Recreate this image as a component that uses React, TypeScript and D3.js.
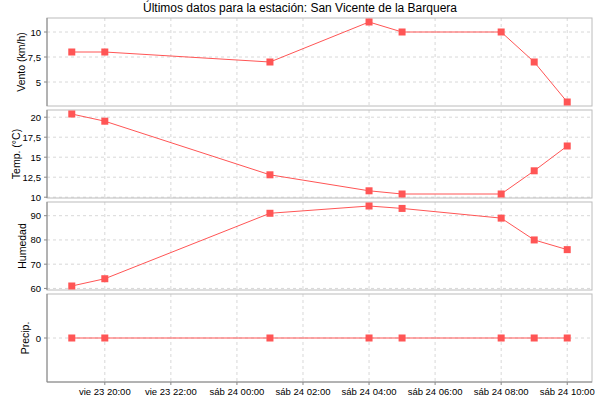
import React from "react";
import * as d3 from "d3";

const TITLE = "Últimos datos para la estación: San Vicente de la Barquera";
const times = [
  new Date(2023, 5, 23, 19, 0),
  new Date(2023, 5, 23, 20, 0),
  new Date(2023, 5, 24, 1, 0),
  new Date(2023, 5, 24, 4, 0),
  new Date(2023, 5, 24, 5, 0),
  new Date(2023, 5, 24, 8, 0),
  new Date(2023, 5, 24, 9, 0),
  new Date(2023, 5, 24, 10, 0),
];
const viento = [8, 8, 7, 11, 10, 10, 7, 3];
const temp = [20.4, 19.5, 12.8, 10.8, 10.4, 10.4, 13.3, 16.4];
const humedad = [61, 64, 91, 94, 93, 89, 80, 76];
const precip = [0, 0, 0, 0, 0, 0, 0, 0];

const xTicks = [
  new Date(2023, 5, 23, 20, 0),
  new Date(2023, 5, 23, 22, 0),
  new Date(2023, 5, 24, 0, 0),
  new Date(2023, 5, 24, 2, 0),
  new Date(2023, 5, 24, 4, 0),
  new Date(2023, 5, 24, 6, 0),
  new Date(2023, 5, 24, 8, 0),
  new Date(2023, 5, 24, 10, 0),
];
const xTickLabels = [
  "vie 23 20:00",
  "vie 23 22:00",
  "sáb 24 00:00",
  "sáb 24 02:00",
  "sáb 24 04:00",
  "sáb 24 06:00",
  "sáb 24 08:00",
  "sáb 24 10:00",
];

const vientoTicks = [5, 7.5, 10];
const tempTicks = [10, 12.5, 15, 17.5, 20];
const humedadTicks = [60, 70, 80, 90];
const precipTicks = [0];

const panelLabels = ["Vento (km/h)", "Temp. (°C)", "Humedad", "Precip."];
const panelValues = [viento, temp, humedad, precip];
const panelTicks = [vientoTicks, tempTicks, humedadTicks, precipTicks];

// layout
const labelBaselineX = [25, 20, 26, 29];
const W = 600;
const H = 400;
const left = 47;
const right = 592;
const top0 = 18;
const panelH = 88;
const gap = 4;
const FONT = "'Liberation Sans', Arial, sans-serif";
const RED = "#ff5555";

const fmt = (v: number) => String(v).replace(".", ",");

export default function App() {
  const t0 = times[0].getTime();
  const t1 = times[times.length - 1].getTime();
  const pad = (t1 - t0) * 0.05;
  const x = d3.scaleTime().domain([new Date(t0 - pad), new Date(t1 + pad)]).range([left, right]);

  return (
    <svg width={W} height={H} style={{ position: "absolute", left: 0, top: 0, background: "#fff" }} fontFamily={FONT}>
      <rect x={0} y={0} width={W} height={H} fill="#fff" />
      <text x={300} y={12} textAnchor="middle" fontSize={12} fill="#000">{TITLE}</text>
      {panelValues.map((values, i) => {
        const ticks = panelTicks[i];
        const y0 = top0 + i * (panelH + gap);
        const y1 = y0 + panelH;
        const mn = d3.min(values) as number;
        const mx = d3.max(values) as number;
        const r = mx - mn;
        const dom = r === 0 ? [mn - 1, mx + 1] : [mn - r * 0.05, mx + r * 0.05];
        const y = d3.scaleLinear().domain(dom).range([y1, y0]);
        const line = d3.line<number>().x((_, k) => x(times[k])).y((v) => y(v));
        const cy = (y0 + y1) / 2;
        return (
          <g key={i}>
            {xTicks.map((t, k) => (
              <line key={"vx" + k} x1={x(t)} x2={x(t)} y1={y0} y2={y1} stroke="#d8d8d8" strokeWidth={1} strokeDasharray="3,3" />
            ))}
            {ticks.map((t, k) => (
              <line key={"hy" + k} x1={left} x2={right} y1={y(t)} y2={y(t)} stroke="#d8d8d8" strokeWidth={1} strokeDasharray="3,3" />
            ))}
            <rect x={left} y={y0} width={right - left} height={panelH} fill="none" stroke="#bcbcbc" strokeWidth={1} />
            <line x1={left} x2={left} y1={y0} y2={y1} stroke="#888" strokeWidth={1} />
            {ticks.map((t, k) => (
              <g key={"yt" + k}>
                <line x1={left - 3} x2={left} y1={y(t)} y2={y(t)} stroke="#888" />
                <text x={left - 6} y={y(t) + 3.5} textAnchor="end" fontSize={9.5} fill="#000">{fmt(t)}</text>
              </g>
            ))}
            <text transform={`translate(${labelBaselineX[i]},${cy}) rotate(-90)`} textAnchor="middle" fontSize={10.5} fill="#000">{panelLabels[i]}</text>
            <path d={line(values) || ""} fill="none" stroke={RED} strokeWidth={1} />
            {values.map((v, k) => (
              <rect key={"m" + k} x={x(times[k]) - 3.5} y={y(v) - 3.5} width={7} height={7} fill={RED} />
            ))}
          </g>
        );
      })}
      {(() => {
        const yb = top0 + 4 * panelH + 3 * gap;
        return (
          <g>
            <line x1={left} x2={right} y1={yb} y2={yb} stroke="#888" />
            {xTicks.map((t, k) => (
              <g key={"xt" + k}>
                <line x1={x(t)} x2={x(t)} y1={yb} y2={yb + 3} stroke="#888" />
                <text x={x(t)} y={yb + 13} textAnchor="middle" fontSize={9.5} fill="#000">{xTickLabels[k]}</text>
              </g>
            ))}
          </g>
        );
      })()}
    </svg>
  );
}
